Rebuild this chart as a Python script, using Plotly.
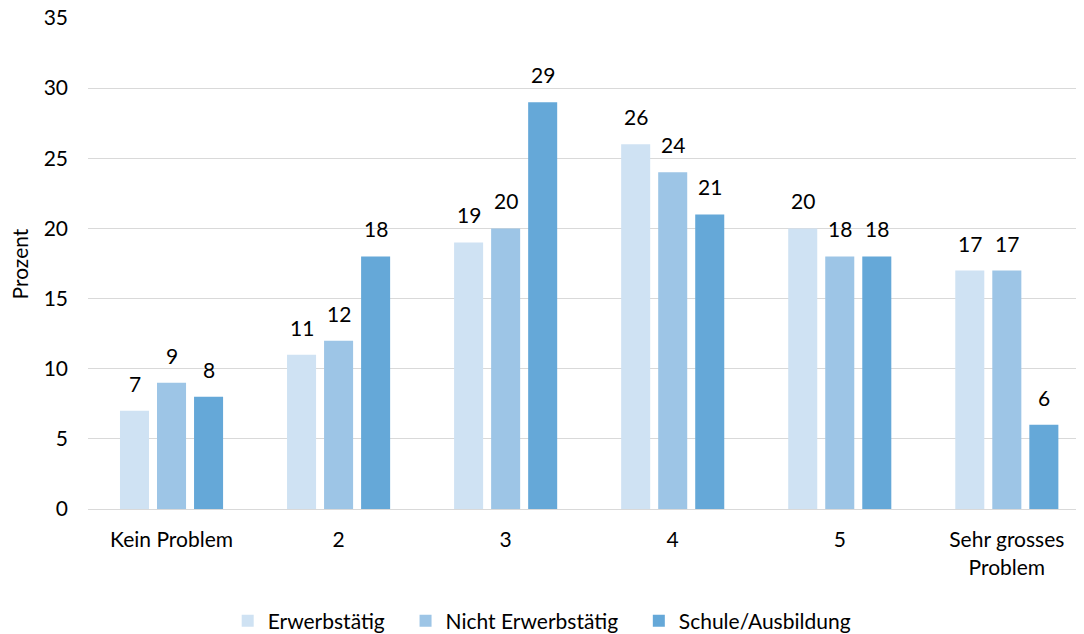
import plotly.graph_objects as go

categories = ["Kein Problem", "2", "3", "4", "5", "Sehr grosses<br>Problem"]
series_names = ["Erwerbstätig", "Nicht Erwerbstätig", "Schule/Ausbildung"]
erwerbstaetig = [7, 11, 19, 26, 20, 17]
nicht_erwerbstaetig = [9, 12, 20, 24, 18, 17]
schule_ausbildung = [8, 18, 29, 21, 18, 6]
colors = ["#cfe2f3", "#9dc5e6", "#65a8d8"]
y_ticks = [0, 5, 10, 15, 20, 25, 30, 35]

FONT = "Lato, 'Open Sans', sans-serif"
FS = 21
series = [erwerbstaetig, nicht_erwerbstaetig, schule_ausbildung]
legend_pad = ["\u2003", "\u2003", ""]

fig = go.Figure()
for name, vals, col, pad in zip(series_names, series, colors, legend_pad):
    fig.add_trace(go.Bar(x=list(range(len(categories))), y=vals, name=name + pad,
                         marker_color=col, marker_line_width=0))

shifts = [-37, 0, 37]
for vals, sh in zip(series, shifts):
    for i, v in enumerate(vals):
        fig.add_annotation(x=i, y=v, xref="x", yref="y", text=str(v),
                           showarrow=False, xshift=sh, yshift=13,
                           yanchor="bottom",
                           font=dict(family=FONT, size=FS, color="#000000"))

fig.add_annotation(text="Prozent", xref="paper", yref="paper", x=-0.0683, y=0.5,
                   xanchor="center", yanchor="middle", textangle=-90,
                   showarrow=False, font=dict(family=FONT, size=FS, color="#000000"))

fig.update_layout(
    width=1076, height=626,
    margin=dict(l=80, r=0, t=10, b=125, autoexpand=False),
    paper_bgcolor="white", plot_bgcolor="white",
    barmode="group", bargap=0.335, bargroupgap=0.216,
    font=dict(family=FONT, size=FS, color="#000000"),
    showlegend=True,
    legend=dict(orientation="h", xref="container", yref="container",
                x=0.496, xanchor="center", y=1 - 613 / 626, yanchor="middle",
                font=dict(family=FONT, size=FS, color="#000000"),
                itemwidth=30, traceorder="normal"),
    xaxis=dict(range=[-0.5, 5.462], showgrid=False, showline=True, automargin=False,
               tickmode="array", tickvals=list(range(len(categories))),
               ticktext=categories,
               linecolor="#d9d9d9", linewidth=1, ticks="", ticklabelstandoff=12,
               tickfont=dict(family=FONT, size=FS, color="#000000")),
    yaxis=dict(range=[0, 35], tickvals=y_ticks, showgrid=True, gridcolor="#d9d9d9",
               gridwidth=1, zeroline=False, showline=False, ticks="", automargin=False,
               ticklabelstandoff=19, ticklabeloverflow="allow",
               tickfont=dict(family=FONT, size=FS, color="#000000")),
)

fig.write_html("out.html")
